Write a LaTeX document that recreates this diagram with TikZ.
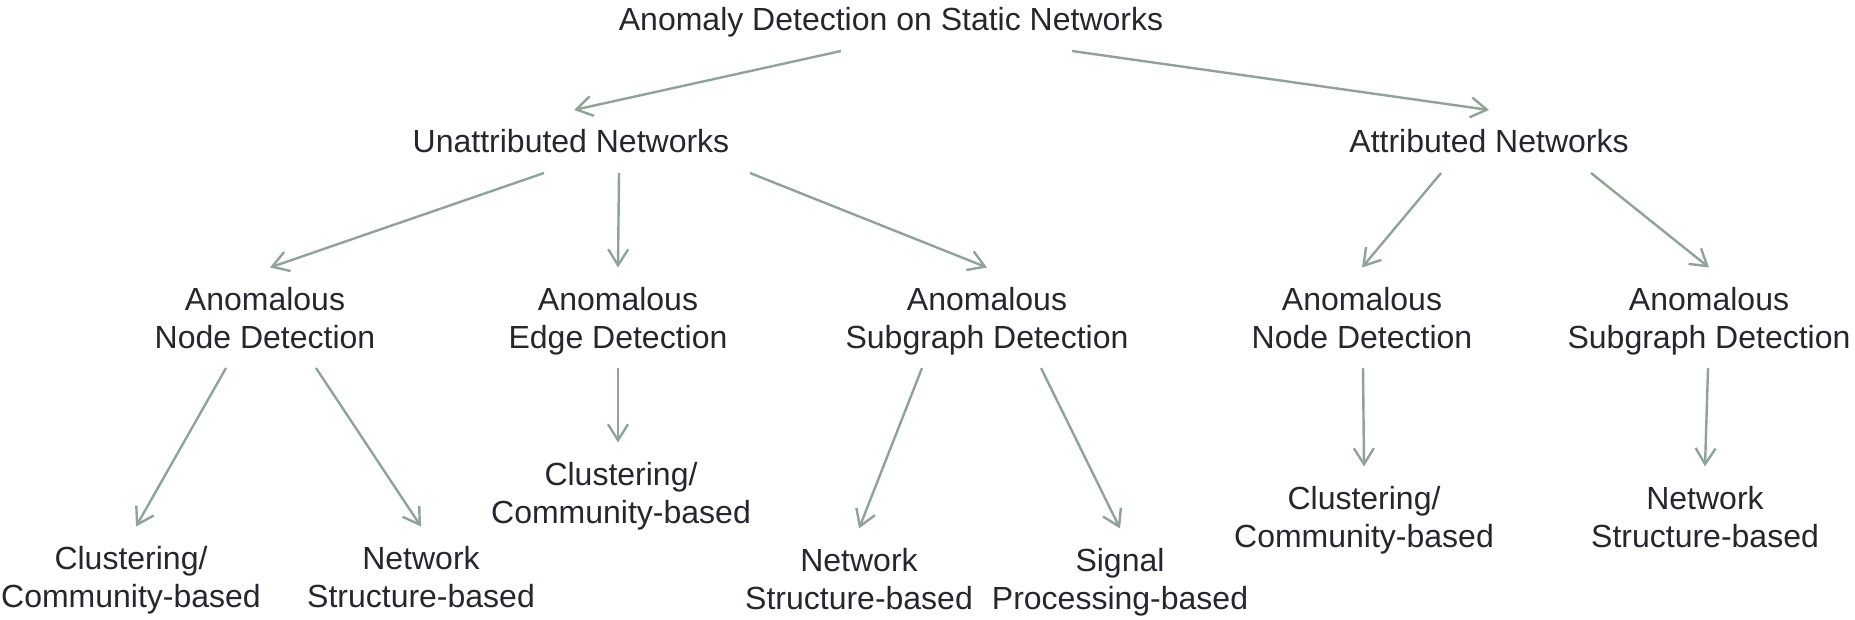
\documentclass[tikz,border=0pt]{standalone}
\usepackage{fontspec}
\setmainfont{Liberation Sans}
\usetikzlibrary{arrows.meta}

\definecolor{linkgray}{HTML}{8FA397}
\definecolor{inkdark}{HTML}{26262E}

\tikzset{
  cat/.style={anchor=base, align=center, inner sep=0pt, outer ysep=10pt,
    text=inkdark, text height=11.5pt, text depth=0pt,
    font=\fontsize{16pt}{18.75pt}\selectfont},
  % two-line labels sit on the baseline of their last line
  twoline/.style={cat, text height=30.25pt},
  link/.style={draw=linkgray, line width=1.2pt,
    -{Straight Barb[length=8pt,width=10pt]}}
}

\begin{document}
\begin{tikzpicture}[x=0.5pt, y=-0.5pt]
  \useasboundingbox (0,0) rectangle (1855,620);

  % root and the two network kinds
  \node[cat] (root) at (891,31) {Anomaly Detection on Static Networks};
  \node[cat] (unat) at (571,153) {Unattributed Networks};
  \node[cat] (att) at (1489,153) {Attributed Networks};

  % detection tasks
  \node[twoline] (and) at (265,348) {Anomalous\\Node Detection};
  \node[twoline] (aed) at (618,348) {Anomalous\\Edge Detection};
  \node[twoline] (asd) at (987,348) {Anomalous\\Subgraph Detection};
  \node[twoline] (bnd) at (1362,348) {Anomalous\\Node Detection};
  \node[twoline] (bsd) at (1709,348) {Anomalous\\Subgraph Detection};

  % method families
  \node[twoline] (c1) at (131,607) {Clustering/\\Community-based};
  \node[twoline] (n1) at (421,607) {Network\\Structure-based};
  \node[twoline] (c2) at (621,523) {Clustering/\\Community-based};
  \node[twoline] (n2) at (859,609) {Network\\Structure-based};
  \node[twoline] (s2) at (1120,609) {Signal\\Processing-based};
  \node[twoline] (c3) at (1364,547) {Clustering/\\Community-based};
  \node[twoline] (n3) at (1705,547) {Network\\Structure-based};

  \draw[link] ([xshift=-25pt]root.south) -- ([xshift=1.5pt]unat.north);
  \draw[link] ([xshift=90.5pt]root.south) -- (att.north);

  \draw[link] ([xshift=-13.5pt]unat.south) -- ([xshift=2.5pt]and.north);
  \draw[link] ([xshift=24pt]unat.south) -- (aed.north);
  \draw[link] ([xshift=89.5pt]unat.south) -- (asd.north);
  \draw[link] ([xshift=-24pt]att.south) -- (bnd.north);
  \draw[link] ([xshift=51pt]att.south) -- (bsd.north);

  \draw[link] ([xshift=-19.5pt]and.south) -- ([xshift=2.5pt]c1.north);
  \draw[link] ([xshift=25.5pt]and.south) -- (n1.north);
  \draw[link] (aed.south) -- ([xshift=-1.5pt]c2.north);
  \draw[link] ([xshift=-32.5pt]asd.south) -- (n2.north);
  \draw[link] ([xshift=27pt]asd.south) -- (s2.north);
  \draw[link] ([xshift=0.5pt]bnd.south) -- (c3.north);
  \draw[link] ([xshift=-0.5pt]bsd.south) -- (n3.north);
\end{tikzpicture}
\end{document}
